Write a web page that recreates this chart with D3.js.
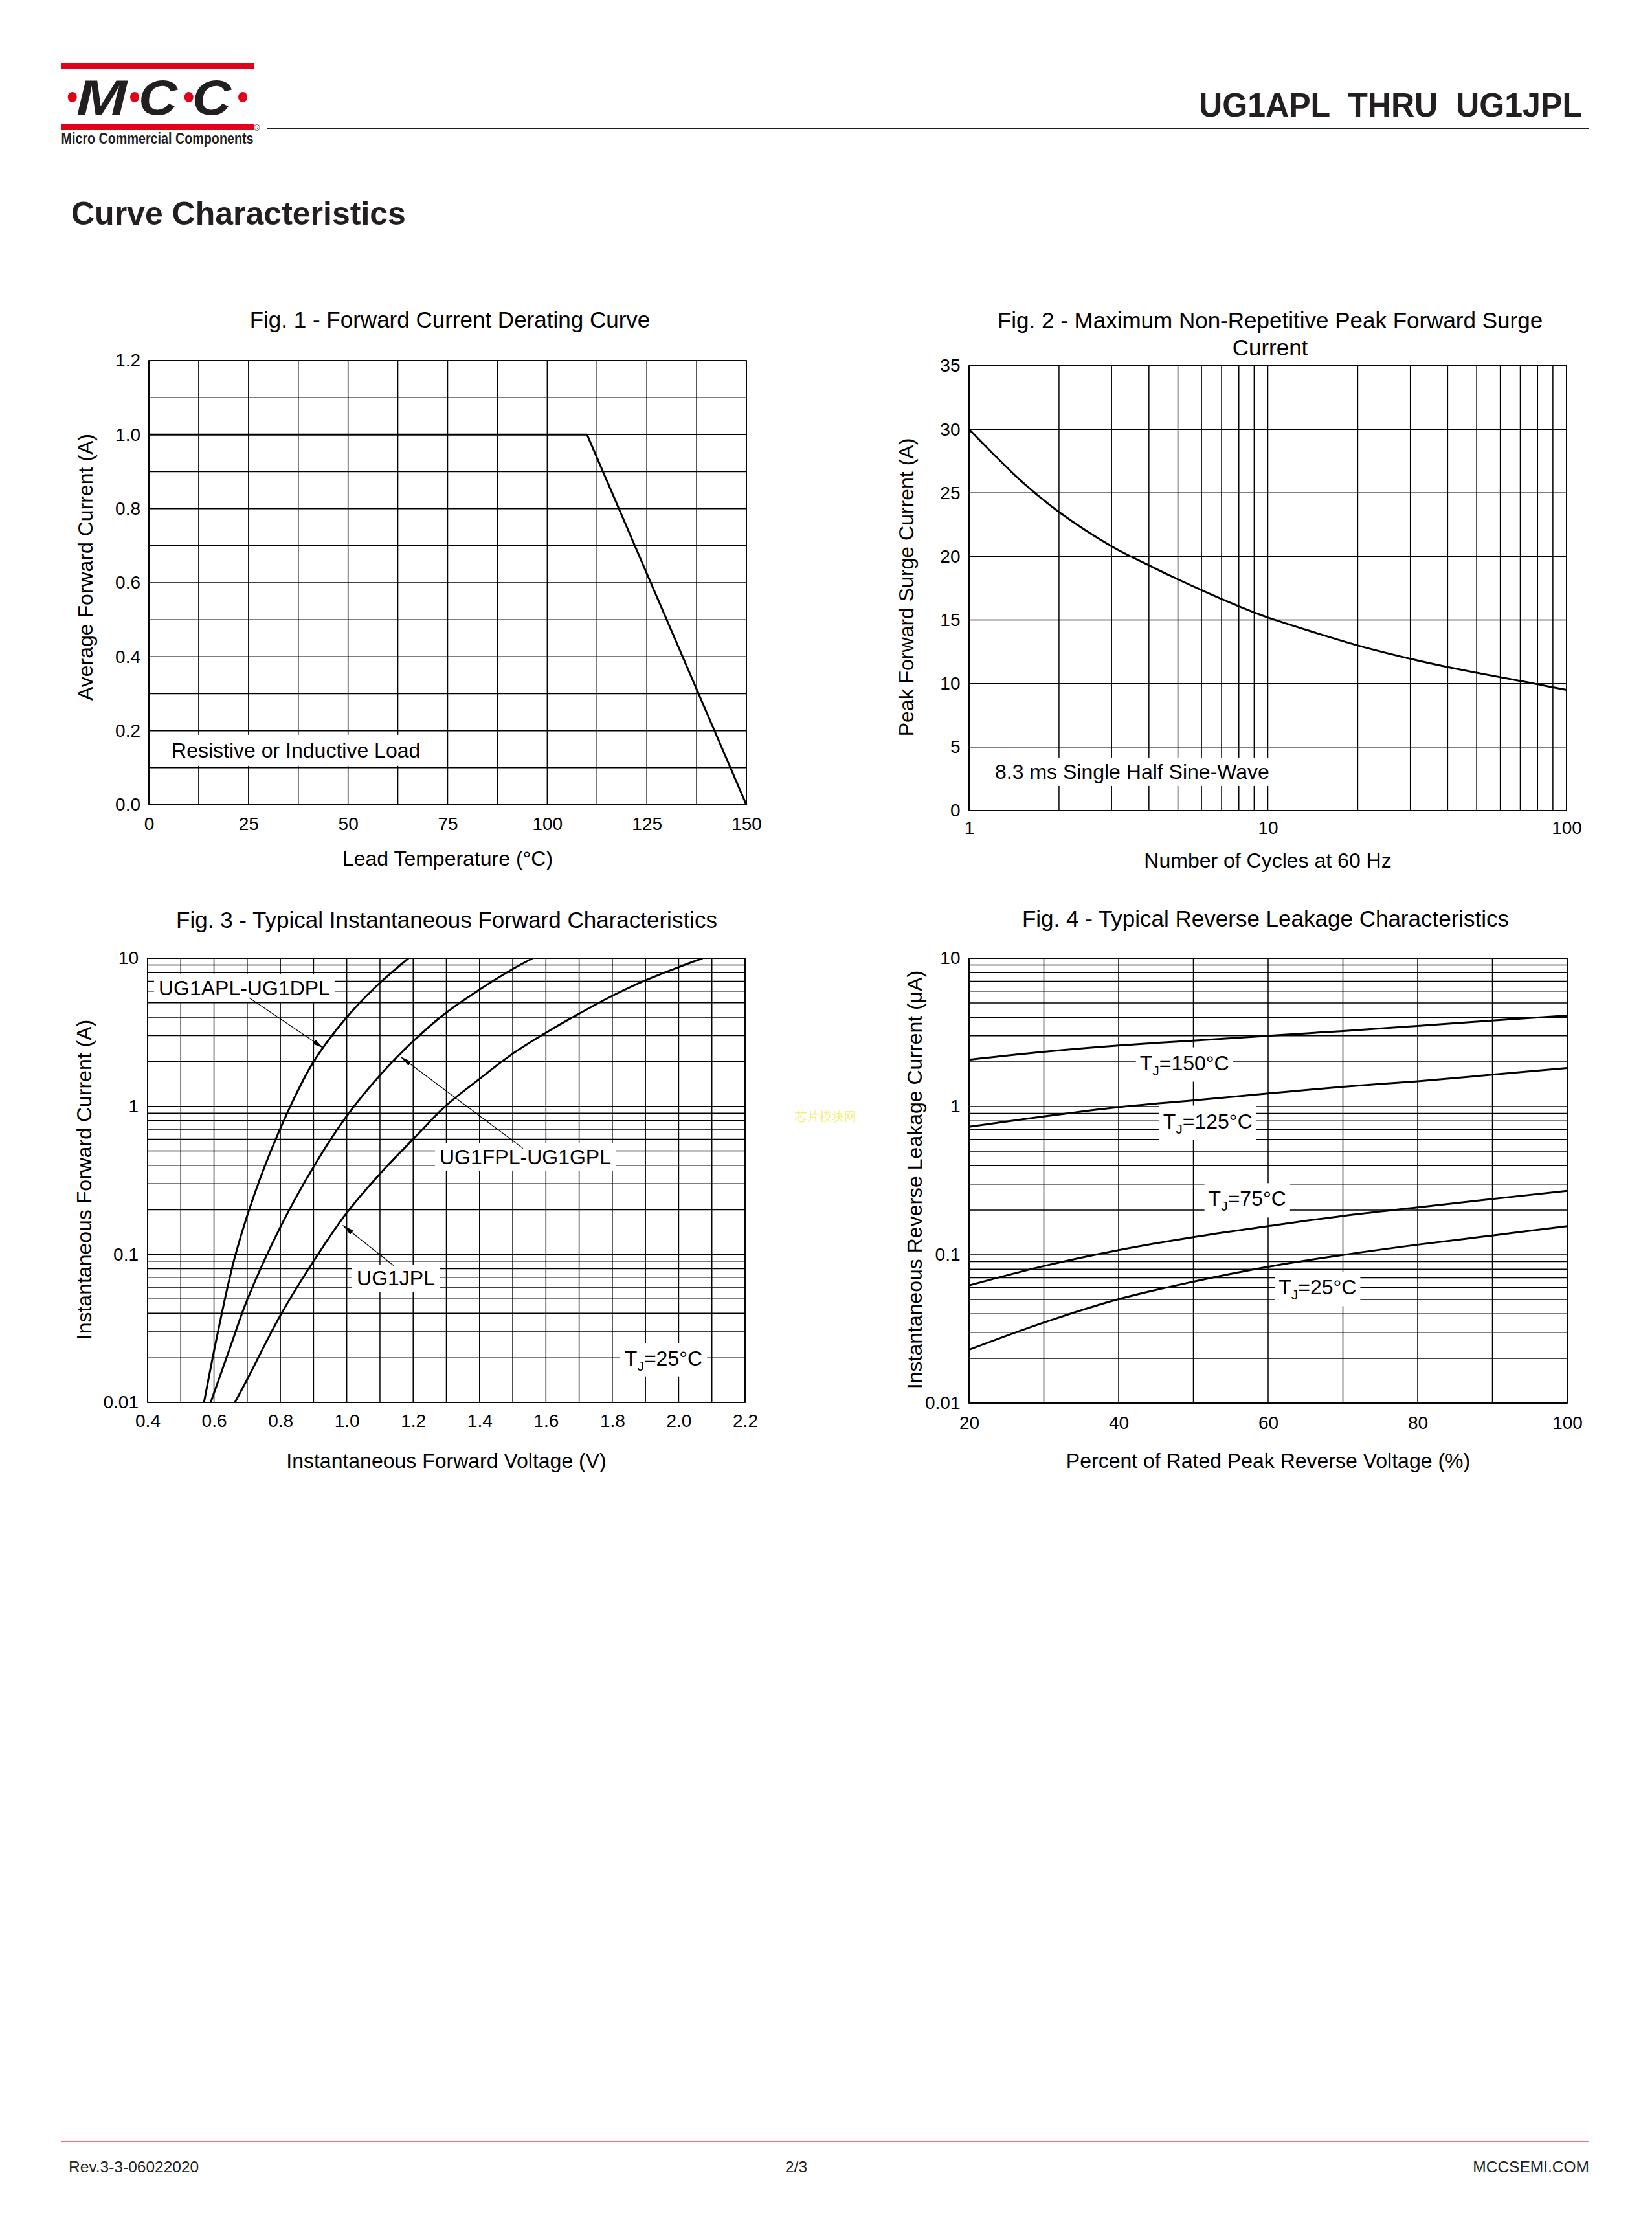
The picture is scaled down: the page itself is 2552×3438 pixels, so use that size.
<!DOCTYPE html>
<html><head><meta charset="utf-8">
<script src="https://cdn.jsdelivr.net/npm/d3@7"></script>
<style>
html,body{margin:0;padding:0;background:#fff;}
svg{display:block;}
text{font-family:"Liberation Sans",Arial,Helvetica,sans-serif;}
</style></head><body>
<svg id="page" width="2552" height="3438"></svg>
<script>
// ---------------- DATA ----------------
// Fig. 1 - Forward Current Derating Curve
const fig1Temp    = [0, 110, 150];
const fig1Current = [1.0, 1.0, 0.0];
const fig1XTicks  = [0, 25, 50, 75, 100, 125, 150];
const fig1YTicks  = [0.0, 0.2, 0.4, 0.6, 0.8, 1.0, 1.2];

// Fig. 2 - Maximum Non-Repetitive Peak Forward Surge Current
const fig2Cycles = [1, 1.25, 1.5, 2, 3, 4, 5, 6, 7, 8, 9, 10, 20, 30, 40, 50, 60, 70, 80, 100];
const fig2Surge  = [30, 27.7, 25.9, 23.5, 20.8, 19.3, 18.2, 17.35, 16.65, 16.08, 15.6, 15.2, 13.0, 11.95, 11.3, 10.85, 10.5, 10.2, 9.94, 9.5];
const fig2XTicks = [1, 10, 100];
const fig2YTicks = [0, 5, 10, 15, 20, 25, 30, 35];

// Fig. 3 - Typical Instantaneous Forward Characteristics
const fig3SeriesLabels = ["UG1APL-UG1DPL", "UG1FPL-UG1GPL", "UG1JPL"];
const fig3AdVoltage = [0.570, 0.612, 0.665, 0.740, 0.830, 0.900, 1.000, 1.090, 1.186];
const fig3AdCurrent = [0.01, 0.03, 0.1, 0.33, 1.0, 2.0, 4.0, 6.5, 10];
const fig3FgVoltage = [0.590, 0.650, 0.700, 0.800, 0.900, 1.000, 1.100, 1.200, 1.297, 1.398, 1.498, 1.560];
const fig3FgCurrent = [0.01, 0.024, 0.0493, 0.153, 0.39, 0.86, 1.62, 2.75, 4.25, 6.1, 8.4, 10];
const fig3JVoltage  = [0.663, 0.700, 0.800, 0.900, 1.000, 1.100, 1.200, 1.297, 1.398, 1.498, 1.598, 1.698, 1.798, 1.898, 1.998, 2.072];
const fig3JCurrent  = [0.01, 0.0143, 0.0387, 0.090, 0.191, 0.35, 0.60, 1.0, 1.52, 2.25, 3.12, 4.2, 5.55, 7.07, 8.67, 10];
const fig3XTicks = [0.4, 0.6, 0.8, 1.0, 1.2, 1.4, 1.6, 1.8, 2.0, 2.2];
const fig3YTicks = [0.01, 0.1, 1, 10];

// Fig. 4 - Typical Reverse Leakage Characteristics
const fig4SeriesLabels = ["=150°C", "=125°C", "=75°C", "=25°C"];
const fig4Percent = [20, 30, 40, 50, 60, 70, 80, 90, 100];
const fig4Tj150 = [2.07, 2.34, 2.58, 2.78, 3.0, 3.23, 3.50, 3.80, 4.11];
const fig4Tj125 = [0.73, 0.857, 0.99, 1.10, 1.225, 1.36, 1.48, 1.64, 1.82];
const fig4Tj75  = [0.0622, 0.084, 0.1076, 0.1316, 0.156, 0.183, 0.209, 0.238, 0.270];
const fig4Tj25  = [0.0229, 0.0349, 0.0502, 0.0659, 0.083, 0.0998, 0.117, 0.135, 0.156];
const fig4XTicks = [20, 40, 60, 80, 100];
const fig4YTicks = [0.01, 0.1, 1, 10];

// ---------------- DRAWING ----------------
const FONT = '"Liberation Sans",Arial,Helvetica,sans-serif';
const INK = '#000';
const DARK = '#231f20';
const RED = '#e2001a';
const svg = d3.select('#page');

const defs = svg.append('defs');
defs.append('marker').attr('id', 'arrow')
  .attr('viewBox', '0 0 18 8').attr('refX', 18).attr('refY', 4)
  .attr('markerWidth', 18).attr('markerHeight', 8)
  .attr('markerUnits', 'userSpaceOnUse').attr('orient', 'auto')
  .append('path').attr('d', 'M0,0 L18,4 L0,8 Z').attr('fill', INK);

// ---- header ----
svg.append('rect').attr('x', 94).attr('y', 98).attr('width', 298).attr('height', 9).attr('fill', RED);
svg.append('rect').attr('x', 94).attr('y', 192).attr('width', 298).attr('height', 9).attr('fill', RED);
svg.append('text').attr('x', 392).attr('y', 202).attr('font-size', 13).attr('fill', DARK).text('®');
const logoLetters = [{t: 'M', x: 118, w: 78}, {t: 'C', x: 214, w: 60}, {t: 'C', x: 297, w: 60}];
svg.selectAll('text.logo').data(logoLetters).join('text').attr('class', 'logo')
  .attr('x', d => d.x).attr('y', 177).attr('font-size', 76).attr('font-weight', 'bold')
  .attr('font-style', 'italic').attr('fill', DARK)
  .attr('textLength', d => d.w).attr('lengthAdjust', 'spacingAndGlyphs').text(d => d.t);
svg.selectAll('ellipse.dot').data([111.7, 208, 291.7, 375]).join('ellipse').attr('class', 'dot')
  .attr('cx', d => d).attr('cy', 150).attr('rx', 7).attr('ry', 8).attr('fill', RED);
svg.append('text').attr('x', 94.5).attr('y', 221.5).attr('font-size', 23).attr('font-weight', 'bold')
  .attr('fill', DARK).attr('textLength', 297).attr('lengthAdjust', 'spacingAndGlyphs')
  .text('Micro Commercial Components');
svg.append('line').attr('x1', 413).attr('x2', 2455).attr('y1', 198.5).attr('y2', 198.5)
  .attr('stroke', DARK).attr('stroke-width', 2.5);
svg.append('text').attr('x', 2444).attr('y', 180).attr('text-anchor', 'end').attr('font-size', 51)
  .attr('font-weight', 'bold').attr('fill', DARK).style('white-space', 'pre')
  .attr('textLength', 592).attr('lengthAdjust', 'spacingAndGlyphs')
  .text('UG1APL  THRU  UG1JPL');
svg.append('text').attr('x', 110).attr('y', 347).attr('font-size', 50).attr('font-weight', 'bold')
  .attr('fill', DARK).text('Curve Characteristics');

// ---- footer ----
svg.append('line').attr('x1', 94).attr('x2', 2455).attr('y1', 3307.5).attr('y2', 3307.5)
  .attr('stroke', '#ef6f73').attr('stroke-width', 2.2);
svg.append('text').attr('x', 106).attr('y', 3355).attr('font-size', 24.5).attr('fill', DARK).text('Rev.3-3-06022020');
svg.append('text').attr('x', 1230).attr('y', 3355).attr('font-size', 24.5).attr('text-anchor', 'middle').attr('fill', DARK).text('2/3');
svg.append('text').attr('x', 2455).attr('y', 3355).attr('font-size', 24.5).attr('text-anchor', 'end').attr('fill', DARK).text('MCCSEMI.COM');

// faint watermark
svg.append('text').attr('x', 1228).attr('y', 1731).attr('font-size', 19)
  .attr('font-family', '"Noto Sans CJK SC",sans-serif').attr('fill', '#f3ee74').text('芯片模块网');

function panel(cfg) {
  const g = svg.append('g');
  const x = cfg.xScale.range([cfg.left, cfg.right]);
  const y = cfg.yScale.range([cfg.bottom, cfg.top]);

  // grid
  g.append('g').selectAll('line').data(cfg.xGrid).join('line')
    .attr('x1', d => x(d)).attr('x2', d => x(d)).attr('y1', cfg.top).attr('y2', cfg.bottom)
    .attr('stroke', INK).attr('stroke-width', 1.5);
  g.append('g').selectAll('line').data(cfg.yGrid).join('line')
    .attr('y1', d => y(d)).attr('y2', d => y(d)).attr('x1', cfg.left).attr('x2', cfg.right)
    .attr('stroke', INK).attr('stroke-width', 1.5);
  g.append('rect').attr('x', cfg.left).attr('y', cfg.top)
    .attr('width', cfg.right - cfg.left).attr('height', cfg.bottom - cfg.top)
    .attr('fill', 'none').attr('stroke', INK).attr('stroke-width', 1.8);

  const boxLayer = g.append('g');
  const curveLayer = g.append('g');
  const textLayer = g.append('g');
  (cfg.notes || []).forEach(n => {
    const t = textLayer.append('text').attr('x', x(n.x)).attr('y', y(n.y))
      .attr('font-size', 32).attr('fill', INK);
    if (n.sub) {
      t.append('tspan').text('T');
      t.append('tspan').attr('font-size', 21).attr('dy', 8).text('J');
      t.append('tspan').attr('font-size', 32).attr('dy', -8).text(n.text);
    } else {
      t.text(n.text);
    }
    const b = t.node().getBBox();
    const px = n.padX || 8, py = n.padY || 4;
    boxLayer.append('rect').attr('x', b.x - px).attr('y', b.y - py)
      .attr('width', b.width + 2 * px).attr('height', b.height + 2 * py).attr('fill', '#fff');
  });

  const line = d3.line().x(d => x(d[0])).y(d => y(d[1])).curve(cfg.curve || d3.curveLinear);
  cfg.series.forEach(s => {
    curveLayer.append('path').datum(d3.zip(s.xs, s.ys)).attr('d', line)
      .attr('fill', 'none').attr('stroke', INK).attr('stroke-width', 3).attr('stroke-linejoin', 'round');
  });

  (cfg.arrows || []).forEach(a => {
    textLayer.append('line').attr('x1', x(a.from[0])).attr('y1', y(a.from[1]))
      .attr('x2', x(a.to[0])).attr('y2', y(a.to[1]))
      .attr('stroke', INK).attr('stroke-width', 1.2).attr('marker-end', 'url(#arrow)');
  });

  const ax = g.append('g').attr('transform', `translate(0,${cfg.bottom})`)
    .call(d3.axisBottom(x).tickValues(cfg.xTicks).tickFormat(cfg.xFmt).tickSize(0).tickPadding(cfg.xTickGap - 0.71 * 28));
  const ay = g.append('g').attr('transform', `translate(${cfg.left},0)`)
    .call(d3.axisLeft(y).tickValues(cfg.yTicks).tickFormat(cfg.yFmt).tickSize(0).tickPadding(cfg.yTickGap));
  [ax, ay].forEach(a => {
    a.select('.domain').remove();
    a.attr('font-size', 28).attr('font-family', FONT);
    a.selectAll('text').attr('fill', INK);
  });

  cfg.title.forEach((t, i) => {
    g.append('text').attr('x', cfg.titleX).attr('y', cfg.titleY[i]).attr('text-anchor', 'middle')
      .attr('font-size', 35).attr('fill', INK).text(t);
  });
  g.append('text').attr('x', (cfg.left + cfg.right) / 2).attr('y', cfg.xTitleY).attr('text-anchor', 'middle')
    .attr('font-size', 32).attr('fill', INK).text(cfg.xTitle);
  g.append('text').attr('transform', `translate(${cfg.yTitleX},${cfg.yTitleC}) rotate(-90)`)
    .attr('text-anchor', 'middle').attr('font-size', 32).attr('fill', INK).text(cfg.yTitle);
}

const smooth = d3.curveCatmullRom.alpha(0.5);

// Fig 1
panel({
  left: 230, right: 1153, top: 557, bottom: 1243,
  xScale: d3.scaleLinear().domain([0, 150]), yScale: d3.scaleLinear().domain([0, 1.2]),
  xGrid: d3.range(0, 13).map(i => i * 12.5), yGrid: d3.range(0, 13).map(i => i / 10),
  xTicks: fig1XTicks, yTicks: fig1YTicks, xFmt: d3.format('d'), yFmt: d3.format('.1f'),
  xTickGap: 39, yTickGap: 13,
  series: [{xs: fig1Temp, ys: fig1Current}],
  notes: [{text: 'Resistive or Inductive Load', x: 5.7, y: 0.128, padX: 12, padY: 6}],
  title: ['Fig. 1 - Forward Current Derating Curve'], titleX: 695, titleY: [506],
  xTitle: 'Lead Temperature (°C)', xTitleY: 1337,
  yTitle: 'Average Forward Current (A)', yTitleX: 143, yTitleC: 876
});

// Fig 2
panel({
  left: 1497, right: 2420, top: 565, bottom: 1252,
  xScale: d3.scaleLog().domain([1, 100]), yScale: d3.scaleLinear().domain([0, 35]),
  xGrid: d3.scaleLog().domain([1, 100]).ticks(), yGrid: fig2YTicks,
  xTicks: fig2XTicks, yTicks: fig2YTicks, xFmt: d3.format('d'), yFmt: d3.format('d'),
  xTickGap: 36, yTickGap: 13.5, curve: smooth,
  series: [{xs: fig2Cycles, ys: fig2Surge}],
  notes: [{text: '8.3 ms Single Half Sine-Wave', x: 1.221, y: 2.5, padX: 12, padY: 4}],
  title: ['Fig. 2 - Maximum Non-Repetitive Peak Forward Surge', 'Current'], titleX: 1962, titleY: [507, 549],
  xTitle: 'Number of Cycles at 60 Hz', xTitleY: 1340,
  yTitle: 'Peak Forward Surge Current (A)', yTitleX: 1411, yTitleC: 907
});

// Fig 3
panel({
  left: 228, right: 1151, top: 1480, bottom: 2166,
  xScale: d3.scaleLinear().domain([0.4, 2.2]), yScale: d3.scaleLog().domain([0.01, 10]),
  xGrid: d3.range(4, 23).map(i => i / 10), yGrid: d3.scaleLog().domain([0.01, 10]).ticks(),
  xTicks: fig3XTicks, yTicks: fig3YTicks, xFmt: d3.format('.1f'), yFmt: d => String(d),
  xTickGap: 38, yTickGap: 14, curve: smooth,
  series: [{xs: fig3AdVoltage, ys: fig3AdCurrent}, {xs: fig3FgVoltage, ys: fig3FgCurrent}, {xs: fig3JVoltage, ys: fig3JCurrent}],
  notes: [
    {text: fig3SeriesLabels[0], x: 0.433, y: 5.64, padX: 7, padY: 3},
    {text: fig3SeriesLabels[1], x: 1.2795, y: 0.407, padX: 7, padY: 3},
    {text: fig3SeriesLabels[2], x: 1.03, y: 0.0616, padX: 7, padY: 3},
    {text: '=25°C', sub: true, x: 1.837, y: 0.0178, padX: 7, padY: 5}
  ],
  arrows: [
    {from: [0.706, 5.41], to: [0.930, 2.47]},
    {from: [1.531, 0.52], to: [1.1625, 2.16]},
    {from: [1.141, 0.0841], to: [0.988, 0.157]}
  ],
  title: ['Fig. 3 - Typical Instantaneous Forward Characteristics'], titleX: 690, titleY: [1433],
  xTitle: 'Instantaneous Forward Voltage (V)', xTitleY: 2267,
  yTitle: 'Instantaneous Forward Current (A)', yTitleX: 141, yTitleC: 1822
});

// Fig 4
panel({
  left: 1497, right: 2421, top: 1480, bottom: 2167,
  xScale: d3.scaleLinear().domain([20, 100]), yScale: d3.scaleLog().domain([0.01, 10]),
  xGrid: d3.range(20, 101, 10), yGrid: d3.scaleLog().domain([0.01, 10]).ticks(),
  xTicks: fig4XTicks, yTicks: fig4YTicks, xFmt: d3.format('d'), yFmt: d => String(d),
  xTickGap: 40, yTickGap: 13.5, curve: smooth,
  series: [{xs: fig4Percent, ys: fig4Tj150}, {xs: fig4Percent, ys: fig4Tj125}, {xs: fig4Percent, ys: fig4Tj75}, {xs: fig4Percent, ys: fig4Tj25}],
  notes: [
    {text: fig4SeriesLabels[0], sub: true, x: 42.83, y: 1.764, padX: 6, padY: 6},
    {text: fig4SeriesLabels[1], sub: true, x: 45.95, y: 0.714, padX: 6, padY: 6},
    {text: fig4SeriesLabels[2], sub: true, x: 52.0, y: 0.214, padX: 6, padY: 6},
    {text: fig4SeriesLabels[3], sub: true, x: 61.4, y: 0.0539, padX: 6, padY: 6}
  ],
  title: ['Fig. 4 - Typical Reverse Leakage Characteristics'], titleX: 1955, titleY: [1431],
  xTitle: 'Percent of Rated Peak Reverse Voltage (%)', xTitleY: 2267,
  yTitle: 'Instantaneous Reverse Leakage Current (μA)', yTitleX: 1424, yTitleC: 1822
});
</script></body></html>
